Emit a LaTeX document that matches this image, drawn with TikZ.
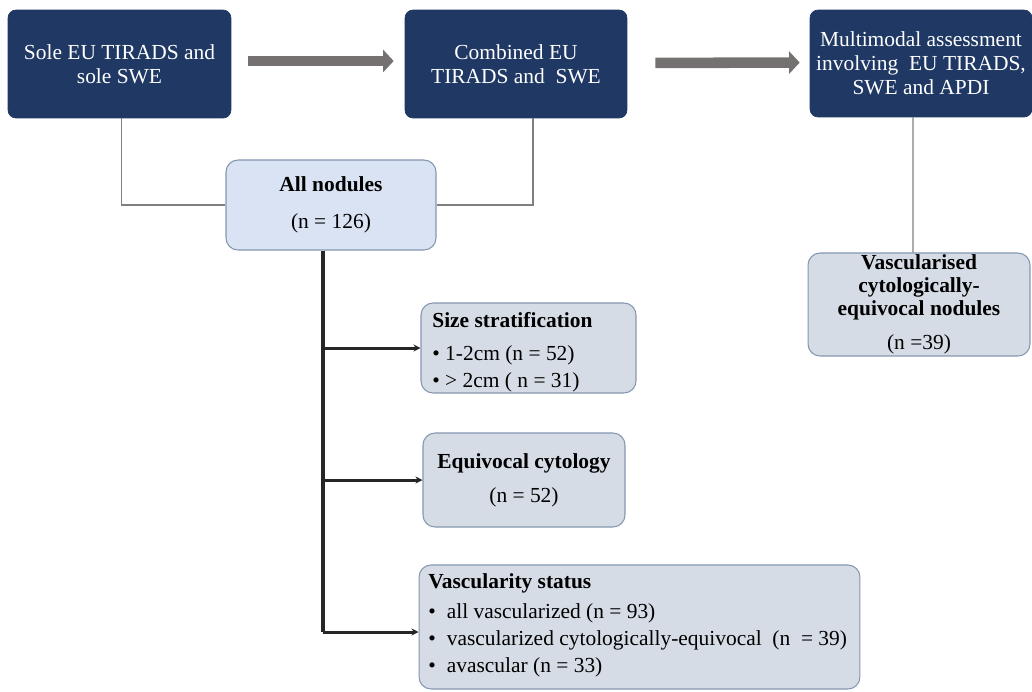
\documentclass[tikz,border=0pt]{standalone}
\usepackage{fontspec}
\setmainfont{Liberation Serif}
\usetikzlibrary{arrows.meta}
\definecolor{navy}{HTML}{1F3864}
\definecolor{allfill}{HTML}{DAE3F3}
\definecolor{lightfill}{HTML}{D6DCE5}
\definecolor{lightborder}{HTML}{8497B0}
\definecolor{fatgray}{HTML}{767171}
\definecolor{thingray}{HTML}{7F7F7F}
\definecolor{trunkcol}{HTML}{262626}
\tikzset{
  darkbox/.style={draw=navy, fill=navy, rounded corners=0.16cm, text=white, align=center, inner sep=0pt, font=\fontsize{12.2}{13.6}\selectfont},
  lightbox/.style={draw=lightborder, line width=0.6pt, fill=lightfill, rounded corners=0.24cm, align=center, inner sep=0pt, font=\fontsize{12.2}{13.2}\selectfont},
  lbl/.style={anchor=base west, inner sep=0pt, font=\fontsize{12.2}{14}\selectfont},
  fatarrow/.style={draw=fatgray, line width=6pt, -{Triangle[length=6pt, width=12.5pt]}},
  thinline/.style={draw=thingray, line width=0.7pt},
  trunk/.style={draw=trunkcol, line width=2.3pt},
  trunkarrow/.style={draw=trunkcol, line width=1.7pt, -{Stealth[length=4pt, width=4pt]}},
}
\begin{document}
\begin{tikzpicture}[x=0.02cm, y=-0.02cm]
\useasboundingbox (0,0) rectangle (1032,691);
% top boxes
\node[darkbox, minimum width=4.46cm, minimum height=2.16cm] (A) at (119.5,64) {Sole EU TIRADS and\\sole SWE};
\node[darkbox, minimum width=4.44cm, minimum height=2.16cm] (B) at (516,64) {Combined EU\\TIRADS and\ \ SWE};
\node[darkbox, minimum width=4.44cm, minimum height=2.14cm] (C) at (921,63.5) {Multimodal assessment\\involving\ \ EU TIRADS,\\SWE and APDI};
% fat arrows
\draw[fatarrow, shorten <=0.34cm, shorten >=0.22cm] ([yshift=0.06cm]A.east) -- ([yshift=0.06cm]B.west);
\draw[fatarrow, shorten <=0.56cm, shorten >=0.2cm] ([yshift=0.02cm]B.east) -- ([yshift=0.02cm]C.west);
% all nodules
\node[lightbox, fill=allfill, minimum width=4.2cm, minimum height=1.8cm] (all) at (331,205) {\textbf{All nodules}\\[0.28cm](n = 126)};
% thin connectors
\draw[thinline] ([xshift=0.04cm]A.south) |- (all.west);
\draw[thinline] ([xshift=0.34cm]B.south) |- (all.east);
% vascularised box
\node[lightbox, minimum width=4.44cm, minimum height=2.06cm] (vz) at (919,304.5) {\textbf{Vascularised}\\\textbf{cytologically-}\\\textbf{equivocal nodules}\\[0.22cm](n =39)};
\draw[thinline] ([xshift=-0.16cm]C.south) -- ([xshift=-0.12cm]vz.north);
% branch boxes
\node[lightbox, minimum width=4.3cm, minimum height=1.8cm] (size) at (528.5,348) {};
\node[lbl] (sizet) at (432,327) {\textbf{Size stratification}};
\node[lbl] (size1) at (432,360) {• 1-2cm (n = 52)};
\node[lbl] (size2) at (432,387) {• > 2cm ( n = 31)};
\node[lightbox, minimum width=4.04cm, minimum height=1.88cm] (eq) at (524,480) {\textbf{Equivocal cytology}\\[0.22cm](n = 52)};
\node[lightbox, minimum width=8.82cm, minimum height=2.48cm] (vs) at (639.5,627) {};
\node[lbl] (vst) at (428,588) {\textbf{Vascularity status}};
\node[lbl] (vs1) at (428,618) {•\hspace{0.22cm}all vascularized (n = 93)};
\node[lbl] (vs2) at (428,645) {•\hspace{0.22cm}vascularized cytologically-equivocal\ \ (n\ \ = 39)};
\node[lbl] (vs3) at (428,672) {•\hspace{0.22cm}avascular (n = 33)};
% trunk
\coordinate (tx) at ([xshift=-0.16cm]all.south);
\coordinate (tend) at ([yshift=-0.1cm]vs.west);
\draw[trunk] (tx) -- (tx |- tend);
\draw[trunkarrow] (tx |- size.west) -- (size.west);
\draw[trunkarrow] (tx |- eq.west) -- (eq.west);
\draw[trunkarrow] (tx |- tend) -- (tend);
\end{tikzpicture}
\end{document}
